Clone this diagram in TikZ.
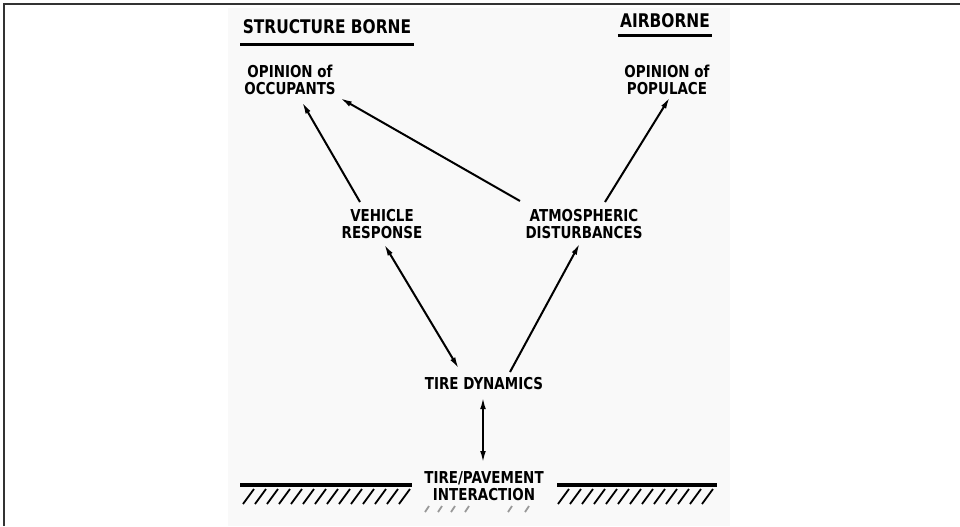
\documentclass[tikz,border=0pt]{standalone}
\usepackage{fontspec}
\newfontfamily\letterfont{DejaVu Sans}[FakeStretch=0.82]
\usetikzlibrary{arrows.meta}
\usetikzlibrary{calc}

\tikzset{
	boxtext/.style={font=\letterfont\bfseries\fontsize{8.2}{8.7}\selectfont, align=center, inner sep=0pt},
	headtext/.style={font=\letterfont\bfseries\fontsize{9.4}{10}\selectfont, inner sep=0pt},
	link/.style={line width=1pt, -{Latex[length=6pt,width=2.8pt]}},
	twoway/.style={line width=1pt, {Latex[length=6pt,width=2.8pt]}-{Latex[length=6pt,width=2.8pt]}},
	hatch/.style={line width=0.9pt},
}

\begin{document}
\begin{tikzpicture}[x=0.5pt, y=-0.5pt]

	\def\groundy{485}
	
	\useasboundingbox (0,0) rectangle (960,526);
	\fill[ black!2.5 ] (228,8) rectangle (730,526);
	\draw[ black!80, line width=1pt ] (4,526) -- (4,4) -- (960,4);
	
	% headings
	\node[ headtext ] (structure) at (327,27) {STRUCTURE BORNE};
	\node[ headtext ] (airborne) at (665,21) {AIRBORNE};
	\draw[ line width=1.7pt ] ($(structure.south west)+(-2,10)$) -- ($(structure.south east)+(2,10)$);
	\draw[ line width=1.7pt ] ($(airborne.south west)+(-2,7)$) -- ($(airborne.south east)+(2,7)$);
	
	% boxes
	\node[ boxtext ] (occupants) at (290,80) {OPINION of\\OCCUPANTS};
	\node[ boxtext ] (populace) at (667,80) {OPINION of\\POPULACE};
	\node[ boxtext ] (vehicle) at (382,224) {VEHICLE\\RESPONSE};
	\node[ boxtext ] (atmos) at (584,224) {ATMOSPHERIC\\DISTURBANCES};
	\node[ boxtext ] (tire) at (484,384) {TIRE DYNAMICS};
	\node[ boxtext ] (contact) at (484,486) {TIRE/PAVEMENT\\INTERACTION};
	
	% connectors
	\draw[ link ] ($(vehicle.center)+(-22,-22)$) -- ($(occupants.center)+(12,22)$);
	\draw[ link ] ($(atmos.center)+(-64,-23)$) -- ($(occupants.center)+(50,18)$);
	\draw[ link ] ($(atmos.center)+(21,-22)$) -- ($(populace.center)+(3,17)$);
	\draw[ twoway ] ($(vehicle.center)+(2,20)$) -- ($(tire.center)+(-25,-15)$);
	\draw[ link ] ($(tire.center)+(26,-12)$) -- ($(atmos.center)+(-4,19)$);
	\draw[ twoway ] ($(tire.center)+(-1,13)$) -- ($(contact.center)+(-1,-23)$);
	
	% ground
	\draw[ line width=1.6pt ] (240,\groundy) -- (412,\groundy);
	\draw[ line width=1.6pt ] (557,\groundy) -- (717,\groundy);
	\foreach \x in {243,255,...,400}
		\draw[ hatch ] (\x,504) -- (\x+11,489);
	\foreach \x in {558,570,...,704}
		\draw[ hatch ] (\x,504) -- (\x+11,489);
	\foreach \x in {425,438,451,465,508,525}
		\draw[ hatch, black!40 ] (\x,512) -- (\x+4,506);

\end{tikzpicture}
\end{document}
